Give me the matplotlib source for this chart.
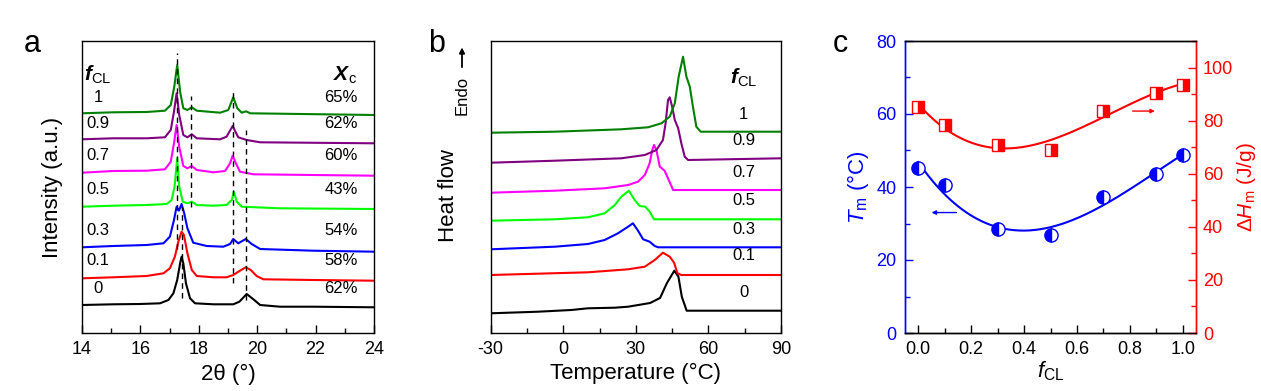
import numpy as np
import matplotlib.pyplot as plt
from matplotlib.ticker import MultipleLocator

plt.rcParams['font.family'] = ['Liberation Sans', 'DejaVu Sans']
plt.rcParams['axes.unicode_minus'] = False
plt.rcParams['mathtext.fontset'] = 'custom'
plt.rcParams['mathtext.rm'] = 'Liberation Sans'
plt.rcParams['mathtext.it'] = 'Liberation Sans:italic'
plt.rcParams['mathtext.bf'] = 'Liberation Sans:bold'
plt.rcParams['mathtext.bfit'] = 'Liberation Sans:bold:italic'

# -----------------------
# Panel a: XRD patterns (stacked, arbitrary intensity units)
# -----------------------
fcl_labels = ['0', '0.1', '0.3', '0.5', '0.7', '0.9', '1']
xc_labels = ['62%', '58%', '54%', '43%', '60%', '62%', '65%']
colors = ['#000000', '#FF0000', '#0000FF', '#00FF00', '#FF00FF', '#800080', '#008000']

tt_0 = [14.0, 15.07, 15.99, 16.67, 16.96, 17.13, 17.26, 17.36, 17.41, 17.47, 17.56, 17.70, 17.87, 18.50, 19.18, 19.39, 19.64, 19.87, 20.10, 20.78, 21.92, 24.0]
xrd_0 = [28.0, 28.7, 29.0, 29.7, 33.0, 39.7, 53.0, 69.7, 76.3, 69.7, 49.7, 34.7, 29.7, 28.7, 28.7, 31.3, 39.0, 33.7, 28.0, 26.3, 26.3, 25.7]

tt_01 = [14.0, 15.07, 16.21, 16.79, 17.01, 17.18, 17.30, 17.41, 17.49, 17.61, 17.76, 17.93, 18.50, 18.95, 19.18, 19.41, 19.61, 19.78, 19.98, 20.21, 21.92, 24.0]
xrd_01 = [54.7, 55.7, 57.0, 59.7, 64.7, 76.3, 91.3, 101.3, 98.0, 79.7, 63.0, 57.0, 55.7, 55.7, 58.0, 62.3, 65.7, 63.0, 57.0, 53.7, 53.0, 52.3]

tt_03 = [14.0, 15.07, 16.21, 16.79, 17.01, 17.15, 17.24, 17.32, 17.41, 17.50, 17.61, 17.81, 18.27, 18.84, 19.07, 19.18, 19.35, 19.61, 19.81, 20.10, 21.92, 24.0]
xrd_03 = [85.7, 87.0, 88.0, 89.7, 96.3, 113.0, 126.3, 122.3, 129.0, 119.7, 104.7, 90.3, 87.0, 86.3, 89.0, 94.0, 89.7, 94.0, 89.0, 84.0, 82.3, 81.3]

tt_05 = [14.0, 15.07, 16.21, 16.90, 17.07, 17.17, 17.26, 17.33, 17.45, 17.61, 17.76, 17.93, 18.50, 18.95, 19.13, 19.20, 19.30, 19.47, 20.78, 24.0]
xrd_05 = [126.3, 127.3, 128.0, 129.0, 133.0, 146.3, 174.7, 146.3, 131.3, 129.7, 131.3, 128.0, 127.3, 128.0, 133.0, 141.3, 131.3, 126.3, 124.7, 124.0]

tt_07 = [14.0, 15.07, 16.21, 16.84, 17.04, 17.15, 17.24, 17.33, 17.47, 17.61, 17.76, 17.93, 18.50, 18.90, 19.07, 19.16, 19.27, 19.41, 19.87, 24.0]
xrd_07 = [160.3, 162.0, 162.3, 163.7, 171.3, 189.7, 208.0, 186.3, 167.0, 164.7, 167.0, 163.0, 160.7, 162.0, 169.7, 177.3, 169.7, 161.3, 158.7, 157.3]

tt_09 = [14.0, 15.07, 16.21, 16.84, 17.04, 17.15, 17.24, 17.33, 17.47, 17.61, 17.76, 17.93, 18.73, 18.95, 19.16, 19.35, 19.64, 20.10, 24.0]
xrd_09 = [193.7, 194.7, 194.7, 195.7, 203.0, 221.3, 239.7, 218.0, 198.0, 195.7, 198.7, 194.7, 193.7, 196.3, 207.0, 195.7, 193.0, 190.7, 189.7]

tt_1 = [14.0, 15.07, 16.21, 16.84, 17.04, 17.16, 17.26, 17.36, 17.47, 17.61, 17.76, 17.93, 18.73, 19.01, 19.18, 19.32, 19.47, 19.62, 19.76, 24.0]
xrd_1 = [219.7, 220.7, 221.0, 222.3, 228.0, 246.3, 268.0, 241.3, 224.7, 223.0, 225.7, 222.3, 220.3, 223.0, 235.7, 224.7, 220.3, 221.7, 219.7, 218.0]

xrd_x = [tt_0, tt_01, tt_03, tt_05, tt_07, tt_09, tt_1]
xrd_y = [xrd_0, xrd_01, xrd_03, xrd_05, xrd_07, xrd_09, xrd_1]
xrd_label_y = [37, 65, 95, 136, 170, 202, 228]

# dashed guide lines: position, bottom, top
guide_x = [17.26, 17.41, 17.73, 19.16, 19.62]
guide_lo = [84, 35, 126, 50, 33]
guide_hi = [280, 126, 237, 243, 203]

# -----------------------
# Panel b: DSC heating curves
# -----------------------
temp_0 = [-30, -10.4, 3.3, 10.2, 21.3, 26.8, 35.9, 40.0, 42.8, 45.9, 47.6, 49.0, 51.0, 90]
dsc_0 = [19.7, 21.3, 23.0, 24.7, 25.3, 26.3, 30.0, 35.0, 49.7, 62.3, 56.3, 36.3, 22.3, 22.3]

temp_01 = [-30, 10.2, 26.8, 33.7, 37.8, 41.2, 44.0, 45.8, 47.2, 48.8, 90]
dsc_01 = [58.0, 60.7, 63.7, 66.3, 73.0, 80.3, 76.3, 70.3, 59.7, 58.0, 58.0]

temp_03 = [-30, -3.5, 10.2, 17.1, 22.6, 26.8, 28.8, 30.9, 33.0, 35.7, 37.8, 39.2, 90]
dsc_03 = [83.7, 86.3, 89.0, 93.0, 99.7, 106.3, 109.7, 102.3, 93.7, 91.3, 87.0, 85.7, 85.7]

temp_05 = [-30, -3.5, 10.2, 17.1, 21.3, 24.0, 27.1, 29.5, 31.6, 33.9, 35.7, 37.5, 90]
dsc_05 = [112.3, 113.7, 115.7, 119.7, 128.0, 136.3, 142.3, 133.0, 127.0, 126.3, 121.3, 113.7, 113.7]

temp_07 = [-30, -3.5, 17.1, 26.8, 30.9, 33.7, 35.7, 36.8, 37.5, 38.5, 39.9, 41.9, 43.6, 45.4, 90]
dsc_07 = [140.3, 142.3, 144.7, 148.0, 151.3, 158.0, 169.7, 183.0, 188.0, 183.0, 166.3, 162.3, 153.0, 143.0, 143.0]

temp_09 = [-30, -3.5, 24.0, 33.7, 38.5, 41.2, 42.3, 43.3, 44.0, 45.0, 46.1, 47.5, 48.8, 50.2, 51.6, 90]
dsc_09 = [170.3, 172.3, 174.7, 178.0, 183.0, 193.0, 209.7, 233.0, 235.7, 226.3, 213.0, 204.7, 189.7, 176.3, 173.0, 174.7]

temp_1 = [-30, -3.5, 24.0, 35.0, 40.6, 44.0, 46.1, 47.7, 49.5, 50.9, 52.3, 53.6, 55.0, 56.8, 90]
dsc_1 = [200.3, 201.3, 203.7, 205.7, 209.7, 216.3, 229.7, 256.3, 276.3, 256.3, 246.3, 226.3, 206.3, 201.3, 201.3]

dsc_x = [temp_0, temp_01, temp_03, temp_05, temp_07, temp_09, temp_1]
dsc_y = [dsc_0, dsc_01, dsc_03, dsc_05, dsc_07, dsc_09, dsc_1]
dsc_label_y = [33, 70, 96, 125, 153, 185, 211]

# -----------------------
# Panel c: melting point and enthalpy vs f_CL
# -----------------------
f_cl = [0.0, 0.1, 0.3, 0.5, 0.7, 0.9, 1.0]
t_m = [45.3, 40.6, 28.5, 26.8, 37.3, 43.5, 48.9]
dh_m = [85.3, 78.3, 71.0, 69.0, 83.8, 90.5, 93.5]

W, H = 1261, 391
fig = plt.figure(figsize=(W / 100, H / 100), dpi=100)


def box(x0, y0, x1, y1):
    return [x0 / W, 1 - y1 / H, (x1 - x0) / W, (y1 - y0) / H]


def style_ticks(ax):
    ax.tick_params(which='both', direction='in', top=False, right=False, labelsize=13, pad=6)
    ax.tick_params(which='major', length=6, width=1)
    ax.tick_params(which='minor', length=3.5, width=1)
    for s in ax.spines.values():
        s.set_linewidth(1)


# ---- a ----
ax_a = fig.add_axes(box(82, 41, 374, 333))
for xs, ys, c in zip(xrd_x, xrd_y, colors):
    ax_a.plot(xs, ys, color=c, lw=1.5)
for gx, lo, hi in zip(guide_x, guide_lo, guide_hi):
    ax_a.plot([gx, gx], [lo, hi], color='k', lw=1, ls=(0, (4, 3)))
for lab, pct, ly in zip(fcl_labels, xc_labels, xrd_label_y):
    ax_a.text(14.55, ly, lab, fontsize=12, ha='center', va='bottom')
    ax_a.text(23.45, ly, pct, fontsize=12, ha='right', va='bottom')
ax_a.text(14.55, 258, r'$\mathbfit{f}_{\mathrm{CL}}$', fontsize=15, ha='center', va='center')
ax_a.text(23.0, 258, r'$\mathbfit{X}_{\mathrm{c}}$', fontsize=15, ha='center', va='center')
ax_a.set_xlim(14, 24)
ax_a.set_ylim(0, 292)
ax_a.set_yticks([])
ax_a.xaxis.set_major_locator(MultipleLocator(2))
ax_a.xaxis.set_minor_locator(MultipleLocator(1))
style_ticks(ax_a)
ax_a.set_xlabel('2θ (°)', fontsize=16, labelpad=4)
ax_a.set_ylabel('Intensity (a.u.)', fontsize=16, labelpad=14)

# ---- b ----
ax_b = fig.add_axes(box(490.7, 41, 781, 333))
for xs, ys, c in zip(dsc_x, dsc_y, colors):
    ax_b.plot(xs, ys, color=c, lw=1.5)
for lab, ly in zip(fcl_labels, dsc_label_y):
    ax_b.text(74.5, ly, lab, fontsize=12, ha='center', va='bottom')
ax_b.text(74.5, 255, r'$\mathbfit{f}_{\mathrm{CL}}$', fontsize=15, ha='center', va='center')
ax_b.set_xlim(-30, 90)
ax_b.set_ylim(0, 292)
ax_b.set_yticks([])
ax_b.xaxis.set_major_locator(MultipleLocator(30))
ax_b.xaxis.set_minor_locator(MultipleLocator(15))
style_ticks(ax_b)
ax_b.set_xlabel('Temperature (°C)', fontsize=16, labelpad=3)
ax_b.set_ylabel('Heat flow', fontsize=16)
ax_b.yaxis.set_label_coords(-0.11, 0.47)
fig.text(462 / W, 1 - 95 / H, 'Endo', rotation=90, fontsize=12, ha='center', va='center')
fig.add_artist(plt.annotate('', xy=(462 / W, 1 - 45 / H), xytext=(462 / W, 1 - 70 / H),
                            xycoords='figure fraction', textcoords='figure fraction',
                            arrowprops=dict(arrowstyle='-|>', lw=1, color='k', mutation_scale=8)))

# ---- c ----
ax_c = fig.add_axes(box(905, 41, 1196, 333))
ax_r = ax_c.twinx()
blue, red = '#0000FF', '#FF0000'
ff = np.linspace(0, 1, 200)
ax_c.plot(ff, np.polyval(np.polyfit(f_cl, t_m, 3), ff), color=blue, lw=1.5)
ax_c.plot(f_cl, t_m, 'o', ms=9.5, color=blue, mec=blue, mew=1, fillstyle='left', markerfacecoloralt='white')
ax_r.plot(ff, np.polyval(np.polyfit(f_cl, dh_m, 3), ff), color=red, lw=1.5)
ax_r.plot(f_cl, dh_m, 's', ms=8.5, color=red, mec=red, mew=1, fillstyle='right', markerfacecoloralt='white')
ax_c.annotate('', xy=(0.04, 33), xytext=(0.155, 33),
              arrowprops=dict(arrowstyle='-|>', lw=1, color=blue, mutation_scale=6))
ax_r.annotate('', xy=(0.905, 83.6), xytext=(0.80, 83.6),
              arrowprops=dict(arrowstyle='-|>', lw=1, color=red, mutation_scale=6))
ax_c.set_xlim(-0.05, 1.05)
ax_c.set_ylim(0, 80)
ax_r.set_ylim(0, 110)
ax_c.xaxis.set_major_locator(MultipleLocator(0.2))
ax_c.xaxis.set_minor_locator(MultipleLocator(0.1))
ax_c.yaxis.set_major_locator(MultipleLocator(20))
ax_c.yaxis.set_minor_locator(MultipleLocator(10))
ax_r.yaxis.set_major_locator(MultipleLocator(20))
ax_r.yaxis.set_minor_locator(MultipleLocator(10))
ax_c.xaxis.set_major_formatter(plt.FormatStrFormatter('%.1f'))
style_ticks(ax_c)
ax_r.tick_params(which='both', direction='in', labelsize=13, pad=5, colors=red)
ax_r.tick_params(which='major', length=6, width=1)
ax_r.tick_params(which='minor', length=3.5, width=1)
ax_c.tick_params(axis='y', which='both', colors=blue)
ax_c.spines['left'].set_color(blue)
ax_r.spines['left'].set_color(blue)
ax_r.spines['right'].set_color(red)
ax_c.spines['right'].set_color(red)
for s in ax_r.spines.values():
    s.set_linewidth(1)
ax_c.set_xlabel(r'$f_{\mathrm{CL}}$', fontsize=16, labelpad=1)
ax_c.set_ylabel(r'$T_{\mathrm{m}}$ (°C)', fontsize=16, color=blue, labelpad=4)
ax_r.set_ylabel(r'$\mathit{ΔH}_{\mathrm{m}}$ (J/g)', fontsize=15, color=red, labelpad=1)

for lab, px in zip(['a', 'b', 'c'], [32, 437, 840]):
    fig.text(px / W, 1 - 52 / H, lab, fontsize=22, ha='center', va='baseline')

fig.savefig('out.png', dpi=100)
